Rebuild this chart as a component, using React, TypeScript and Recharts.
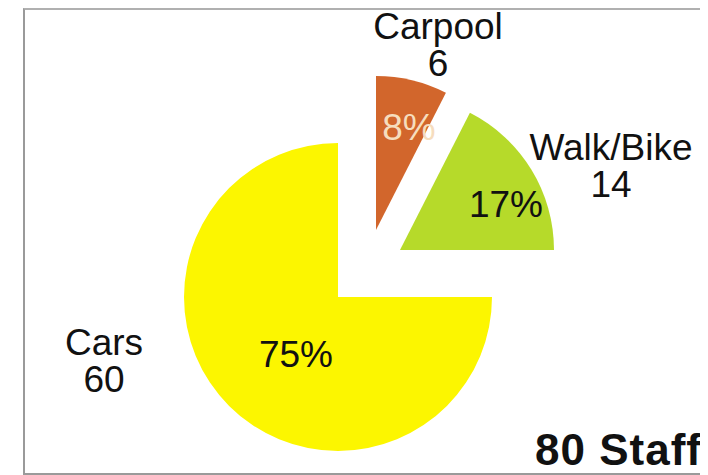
import { PieChart, Pie, Cell } from 'recharts';

// staff commute modes (80 staff)
const modes = ['Carpool', 'Walk/Bike', 'Cars'];
const counts = [6, 14, 60];
const pctLabels = ['8%', '17%', '75%'];
const colors = ['#D2662C', '#B6DA2A', '#FCF600'];

const data = modes.map((name, i) => ({ name, value: counts[i] }));

// each exploded slice gets its own center (relative to plot area, margin 5)
const centers = [
  { cx: 363, cy: 225 },
  { cx: 387, cy: 245 },
  { cx: 325, cy: 292 },
];
const RADIUS = 154;

// label placement relative to the slice center
const labelPos = [
  { name: { dx: 62, dy: -191 }, pct: { dx: 33, dy: -90 }, pctColor: '#F6DDBE' },
  { name: { dx: 211, dy: -90 }, pct: { dx: 106, dy: -33 }, pctColor: '#111' },
  { name: { dx: -234, dy: 58 }, pct: { dx: -42, dy: 70 }, pctColor: '#111' },
];

const FONT = '"Liberation Sans", Arial, Helvetica, sans-serif';

function makeLabel(slice: number) {
  return (props: any) => {
    if (props.index !== slice) return null;
    const p = labelPos[slice];
    const cx = props.cx;
    const cy = props.cy;
    return (
      <g key={`lbl-${slice}`}>
        <text
          x={cx + p.pct.dx}
          y={cy + p.pct.dy}
          textAnchor="middle"
          fontSize={37}
          fontFamily={FONT}
          fill={p.pctColor}
        >
          {pctLabels[slice]}
        </text>
        <text
          x={cx + p.name.dx}
          y={cy + p.name.dy}
          textAnchor="middle"
          fontSize={37}
          fontFamily={FONT}
          fill="#111"
        >
          <tspan x={cx + p.name.dx}>{modes[slice]}</tspan>
          <tspan x={cx + p.name.dx} dy={37}>
            {counts[slice]}
          </tspan>
        </text>
      </g>
    );
  };
}

export default function App() {
  return (
    <div style={{ position: 'relative', width: 700, height: 475, marginTop: -8 }}>
      {/* scanned page frame */}
      <div
        style={{
          position: 'absolute',
          left: 15,
          top: 8,
          width: 683,
          height: 463,
          borderLeft: '2px solid #9a9a9a',
          borderTop: '2px solid #b0b0b0',
          borderBottom: '2px solid #9a9a9a',
        }}
      />
      <PieChart width={700} height={475} style={{ position: 'absolute', left: 0, top: 0 }}>
        {centers.map((c, s) => (
          <Pie
            key={`pie-${s}`}
            data={data}
            dataKey="value"
            nameKey="name"
            cx={c.cx}
            cy={c.cy}
            outerRadius={RADIUS}
            startAngle={90}
            endAngle={-270}
            stroke="none"
            labelLine={false}
            label={makeLabel(s)}
            isAnimationActive={false}
          >
            {data.map((_, i) => (
              <Cell key={`cell-${s}-${i}`} fill={i === s ? colors[i] : 'transparent'} />
            ))}
          </Pie>
        ))}
      </PieChart>
      <div
        style={{
          position: 'absolute',
          right: 6,
          top: 428,
          fontFamily: FONT,
          fontWeight: 'bold',
          fontSize: 44,
          letterSpacing: 1,
          color: '#111',
          lineHeight: 1,
        }}
      >
        80 Staff
      </div>
    </div>
  );
}
